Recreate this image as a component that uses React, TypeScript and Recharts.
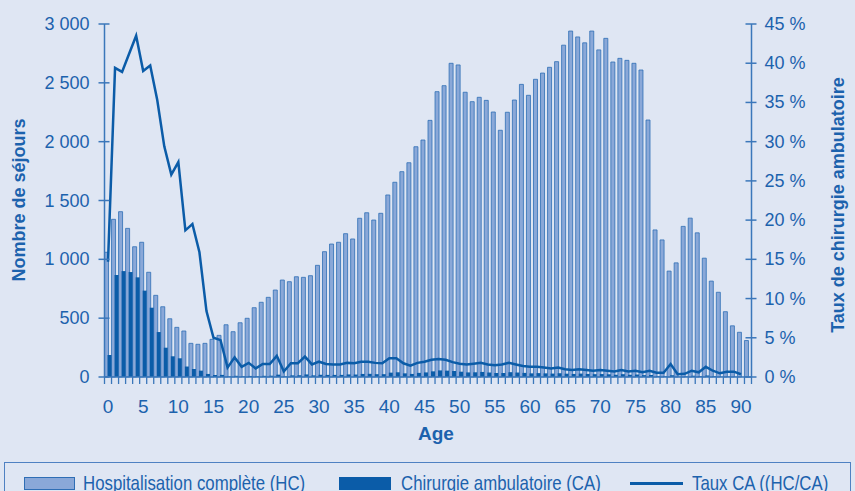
import React from "react";
import { Bar, ComposedChart, Line, XAxis, YAxis } from "recharts";

// âge (années)
const ages = [
  0, 1, 2, 3, 4, 5, 6, 7, 8, 9, 10, 11, 12, 13, 14, 15, 16, 17, 18, 19, 20, 21, 22, 23, 24, 25, 26, 27, 28, 29, 30,
  31, 32, 33, 34, 35, 36, 37, 38, 39, 40, 41, 42, 43, 44, 45, 46, 47, 48, 49, 50, 51, 52, 53, 54, 55, 56, 57, 58,
  59, 60, 61, 62, 63, 64, 65, 66, 67, 68, 69, 70, 71, 72, 73, 74, 75, 76, 77, 78, 79, 80, 81, 82, 83, 84, 85, 86,
  87, 88, 89, 90, 91,
];

// hospitalisation complète
const hc = [
  1060, 1340, 1405, 1263, 1107, 1145, 890, 694, 597, 495, 422, 391, 286, 278, 286, 320, 354, 444, 385, 461, 499, 589,
  635, 677, 739, 824, 810, 852, 847, 861, 949, 1065, 1130, 1145, 1218, 1173, 1349, 1396, 1334, 1391, 1547, 1655,
  1745, 1821, 1957, 2014, 2181, 2425, 2476, 2666, 2652, 2420, 2340, 2377, 2351, 2252, 2097, 2250, 2354, 2487, 2394,
  2530, 2583, 2632, 2680, 2820, 2940, 2890, 2840, 2940, 2780, 2878, 2677, 2708, 2691, 2666, 2609, 2184, 1250, 1165,
  900, 970, 1280, 1350, 1225, 1010, 815, 720, 555, 435, 380, 310,
];

// chirurgie ambulatoire
const ca = [
  187, 867, 900, 892, 847, 734, 589, 382, 249, 176, 159, 89, 68, 54, 26, 17, 18, 5, 10, 6, 9, 6, 10, 11, 20, 6, 14,
  15, 22, 14, 19, 18, 18, 18, 22, 21, 26, 27, 24, 24, 37, 40, 31, 26, 35, 39, 48, 56, 54, 51, 45, 39, 40, 43, 38, 34,
  34, 41, 38, 35, 31, 33, 31, 29, 32, 28, 26, 29, 26, 24, 25, 23, 19, 24, 19, 21, 16, 17, 7, 6, 15, 3, 5, 11, 7, 13,
  7, 3, 4, 3, 1, 0,
];

// taux CA (%)
const taux = [
  14.7, 39.4, 38.9, 41.2, 43.5, 39.0, 39.7, 35.3, 29.4, 25.8, 27.4, 18.7, 19.5, 15.9, 8.4, 5.0, 4.7, 1.2, 2.5, 1.3,
  1.8, 1.1, 1.65, 1.65, 2.7, 0.7, 1.75, 1.75, 2.6, 1.6, 1.95, 1.65, 1.6, 1.6, 1.8, 1.75, 1.95, 1.95, 1.8, 1.75, 2.4,
  2.4, 1.75, 1.45, 1.8, 1.95, 2.2, 2.3, 2.2, 1.9, 1.7, 1.6, 1.7, 1.8, 1.6, 1.5, 1.6, 1.8, 1.6, 1.4, 1.3, 1.3, 1.2,
  1.1, 1.2, 1.0, 0.9, 1.0, 0.9, 0.8, 0.9, 0.8, 0.7, 0.9, 0.7, 0.8, 0.6, 0.8, 0.55, 0.55, 1.65, 0.35, 0.4, 0.8, 0.6,
  1.3, 0.8, 0.47, 0.68, 0.68, 0.35, null,
];

const leftTicks = [0, 500, 1000, 1500, 2000, 2500, 3000];
const rightTicks = [0, 5, 10, 15, 20, 25, 30, 35, 40, 45];

const data = ages.map((age, i) => ({ age, hc: hc[i], ca: ca[i], taux: taux[i] }));

const BG = "#dfe6f3";
const BLUE = "#0b5ca8";
const TEXT = "#1c62ad";
const AXIS = "#3b77ba";
const FONT = "'Liberation Sans', Arial, sans-serif";
const BAND = 647 / 92;

function XTick(props: any) {
  const { x, y, payload } = props;
  const age = payload.value;
  return (
    <g>
      <line x1={x - BAND / 2} x2={x - BAND / 2} y1={y} y2={y + 7} stroke={AXIS} strokeWidth={1.3} />
      {age === 91 && <line x1={x + BAND / 2} x2={x + BAND / 2} y1={y} y2={y + 7} stroke={AXIS} strokeWidth={1.3} />}
      {age % 5 === 0 && age <= 90 && (
        <text x={x} y={y + 36} textAnchor="middle" fill={TEXT} fontSize={19} fontFamily={FONT}>
          {age}
        </text>
      )}
    </g>
  );
}

function LeftTick(props: any) {
  const { x, y, payload } = props;
  const v = payload.value;
  const label = v >= 1000 ? `${Math.floor(v / 1000)} ${String(v % 1000).padStart(3, "0")}` : String(v);
  return (
    <g>
      <line x1={x - 6} x2={x + 5} y1={y} y2={y} stroke={AXIS} strokeWidth={1.5} />
      <text x={x - 15} y={y + 6} textAnchor="end" fill={TEXT} fontSize={18} fontFamily={FONT}>
        {label}
      </text>
    </g>
  );
}

function RightTick(props: any) {
  const { x, y, payload } = props;
  return (
    <g>
      <line x1={x - 6} x2={x + 5} y1={y} y2={y} stroke={AXIS} strokeWidth={1.5} />
      <text x={x + 13} y={y + 6} textAnchor="start" fill={TEXT} fontSize={18} fontFamily={FONT}>
        {`${payload.value} %`}
      </text>
    </g>
  );
}

const legendText: React.CSSProperties = {
  position: "absolute",
  top: 471,
  fontFamily: FONT,
  fontSize: 21,
  color: TEXT,
  whiteSpace: "nowrap",
  lineHeight: "24px",
  transform: "scaleX(0.8)",
  transformOrigin: "left center",
};

export default function App() {
  return (
    <div style={{ position: "absolute", left: 0, top: 0, width: 855, height: 491, background: BG, overflow: "hidden" }}>
      <ComposedChart
        width={855}
        height={460}
        data={data}
        margin={{ top: 24, right: 8.5, bottom: 23, left: 9.5 }}
        barCategoryGap={0}
        barGap={-1}
      >
        <XAxis
          dataKey="age"
          interval={0}
          tickSize={0}
          tickMargin={0}
          tick={<XTick />}
          height={60}
          axisLine={{ stroke: AXIS, strokeWidth: 1.5 }}
        />
        <YAxis
          yAxisId="left"
          domain={[0, 3000]}
          ticks={leftTicks}
          width={95}
          tickSize={0}
          tickMargin={0}
          tick={<LeftTick />}
          axisLine={{ stroke: AXIS, strokeWidth: 1.5 }}
        />
        <YAxis
          yAxisId="right"
          orientation="right"
          domain={[0, 45]}
          ticks={rightTicks}
          width={95}
          tickSize={0}
          tickMargin={0}
          tick={<RightTick />}
          axisLine={{ stroke: AXIS, strokeWidth: 1.5 }}
        />
        <Bar yAxisId="left" dataKey="hc" barSize={4} fill="#8aa8d8" stroke="#2f6eb5" strokeWidth={0.8} isAnimationActive={false} />
        <Bar yAxisId="left" dataKey="ca" barSize={4} fill={BLUE} isAnimationActive={false} />
        <Line
          yAxisId="right"
          dataKey="taux"
          type="linear"
          stroke={BLUE}
          strokeWidth={2.5}
          dot={false}
          isAnimationActive={false}
        />
      </ComposedChart>

      <div
        style={{
          position: "absolute",
          left: 19,
          top: 200,
          transform: "translate(-50%, -50%) rotate(-90deg)",
          fontFamily: FONT,
          fontWeight: "bold",
          fontSize: 18,
          color: TEXT,
          whiteSpace: "nowrap",
        }}
      >
        Nombre de séjours
      </div>
      <div
        style={{
          position: "absolute",
          left: 838,
          top: 205,
          transform: "translate(-50%, -50%) rotate(-90deg)",
          fontFamily: FONT,
          fontWeight: "bold",
          fontSize: 18,
          color: TEXT,
          whiteSpace: "nowrap",
        }}
      >
        Taux de chirurgie ambulatoire
      </div>
      <div
        style={{
          position: "absolute",
          left: 436,
          top: 434,
          transform: "translate(-50%, -50%)",
          fontFamily: FONT,
          fontWeight: "bold",
          fontSize: 19,
          color: TEXT,
        }}
      >
        Age
      </div>

      <div
        style={{
          position: "absolute",
          left: 4,
          top: 462,
          width: 845,
          height: 40,
          border: "1px solid #4f81c2",
        }}
      />
      <div
        style={{
          position: "absolute",
          left: 24,
          top: 477,
          width: 49,
          height: 11,
          background: "#8aa8d8",
          border: "1px solid #2f6eb5",
        }}
      />
      <div style={{ ...legendText, left: 83 }}>Hospitalisation complète (HC)</div>
      <div style={{ position: "absolute", left: 339, top: 477, width: 52, height: 13, background: BLUE }} />
      <div style={{ ...legendText, left: 401 }}>Chirurgie ambulatoire (CA)</div>
      <div style={{ position: "absolute", left: 630, top: 482, width: 53, height: 3, background: BLUE }} />
      <div style={{ ...legendText, left: 692 }}>Taux CA ((HC/CA)</div>
    </div>
  );
}
